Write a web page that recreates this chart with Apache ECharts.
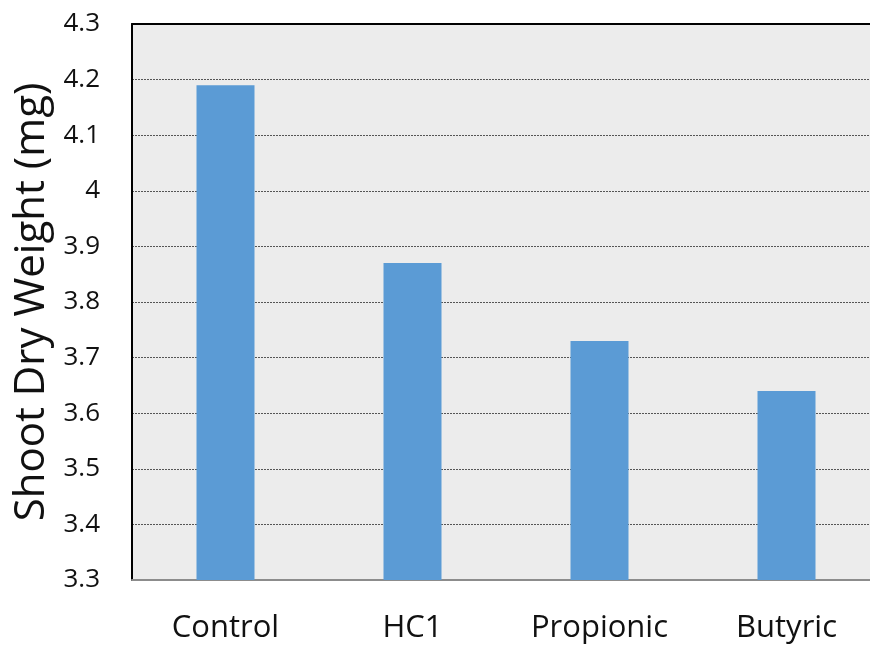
<!DOCTYPE html>
<html>
<head>
<meta charset="utf-8">
<script src="https://cdn.jsdelivr.net/npm/echarts@6/dist/echarts.min.js"></script>
<style>
  html, body { margin: 0; padding: 0; background: #fff; }
  #chart { width: 870px; height: 652px; }
</style>
</head>
<body>
<div id="chart"></div>
<script>
  // data
  const categories = ['Control', 'HC1', 'Propionic', 'Butyric'];
  const shootWeight = [4.19, 3.87, 3.73, 3.64];
  const yMin = 3.3, yMax = 4.3, yStep = 0.1;

  const font = 'Open Sans, Liberation Sans, sans-serif';
  const chart = echarts.init(document.getElementById('chart'));
  const option = {
    animation: false,
    grid: {
      left: 132,
      width: 748,   // plot runs past the right edge of the picture
      top: 24,
      bottom: 72,
      outerBoundsMode: 'none',
      show: true,
      backgroundColor: '#ececec',
      borderWidth: 0
    },
    xAxis: [
      {
        type: 'category',
        data: categories,
        axisTick: { show: false },
        axisLine: { lineStyle: { color: '#8c8c8c', width: 2 } },
        axisLabel: { color: '#111', fontSize: 31, fontFamily: font, margin: 33 }
      },
      {
        // black frame line along the top
        type: 'category',
        position: 'top',
        data: categories,
        axisTick: { show: false },
        axisLabel: { show: false },
        axisLine: { lineStyle: { color: '#000', width: 2 } }
      }
    ],
    yAxis: {
      type: 'value',
      min: yMin,
      max: yMax,
      interval: yStep,
      name: 'Shoot Dry Weight (mg)',
      nameLocation: 'middle',
      nameGap: 79,
      nameTextStyle: { color: '#111', fontSize: 42, fontFamily: font },
      axisLine: { show: true, lineStyle: { color: '#000', width: 2 } },
      axisTick: { show: false },
      axisLabel: {
        color: '#111',
        fontSize: 26,
        fontFamily: font,
        margin: 32,
        formatter: v => String(Math.round(v * 10) / 10)
      },
      splitLine: { lineStyle: { color: '#555', type: [2, 1], width: 1 } }
    },
    series: [
      {
        type: 'bar',
        data: shootWeight,
        barWidth: 58,
        itemStyle: { color: '#5b9bd5' }
      }
    ]
  };
  chart.setOption(option);
</script>
</body>
</html>
